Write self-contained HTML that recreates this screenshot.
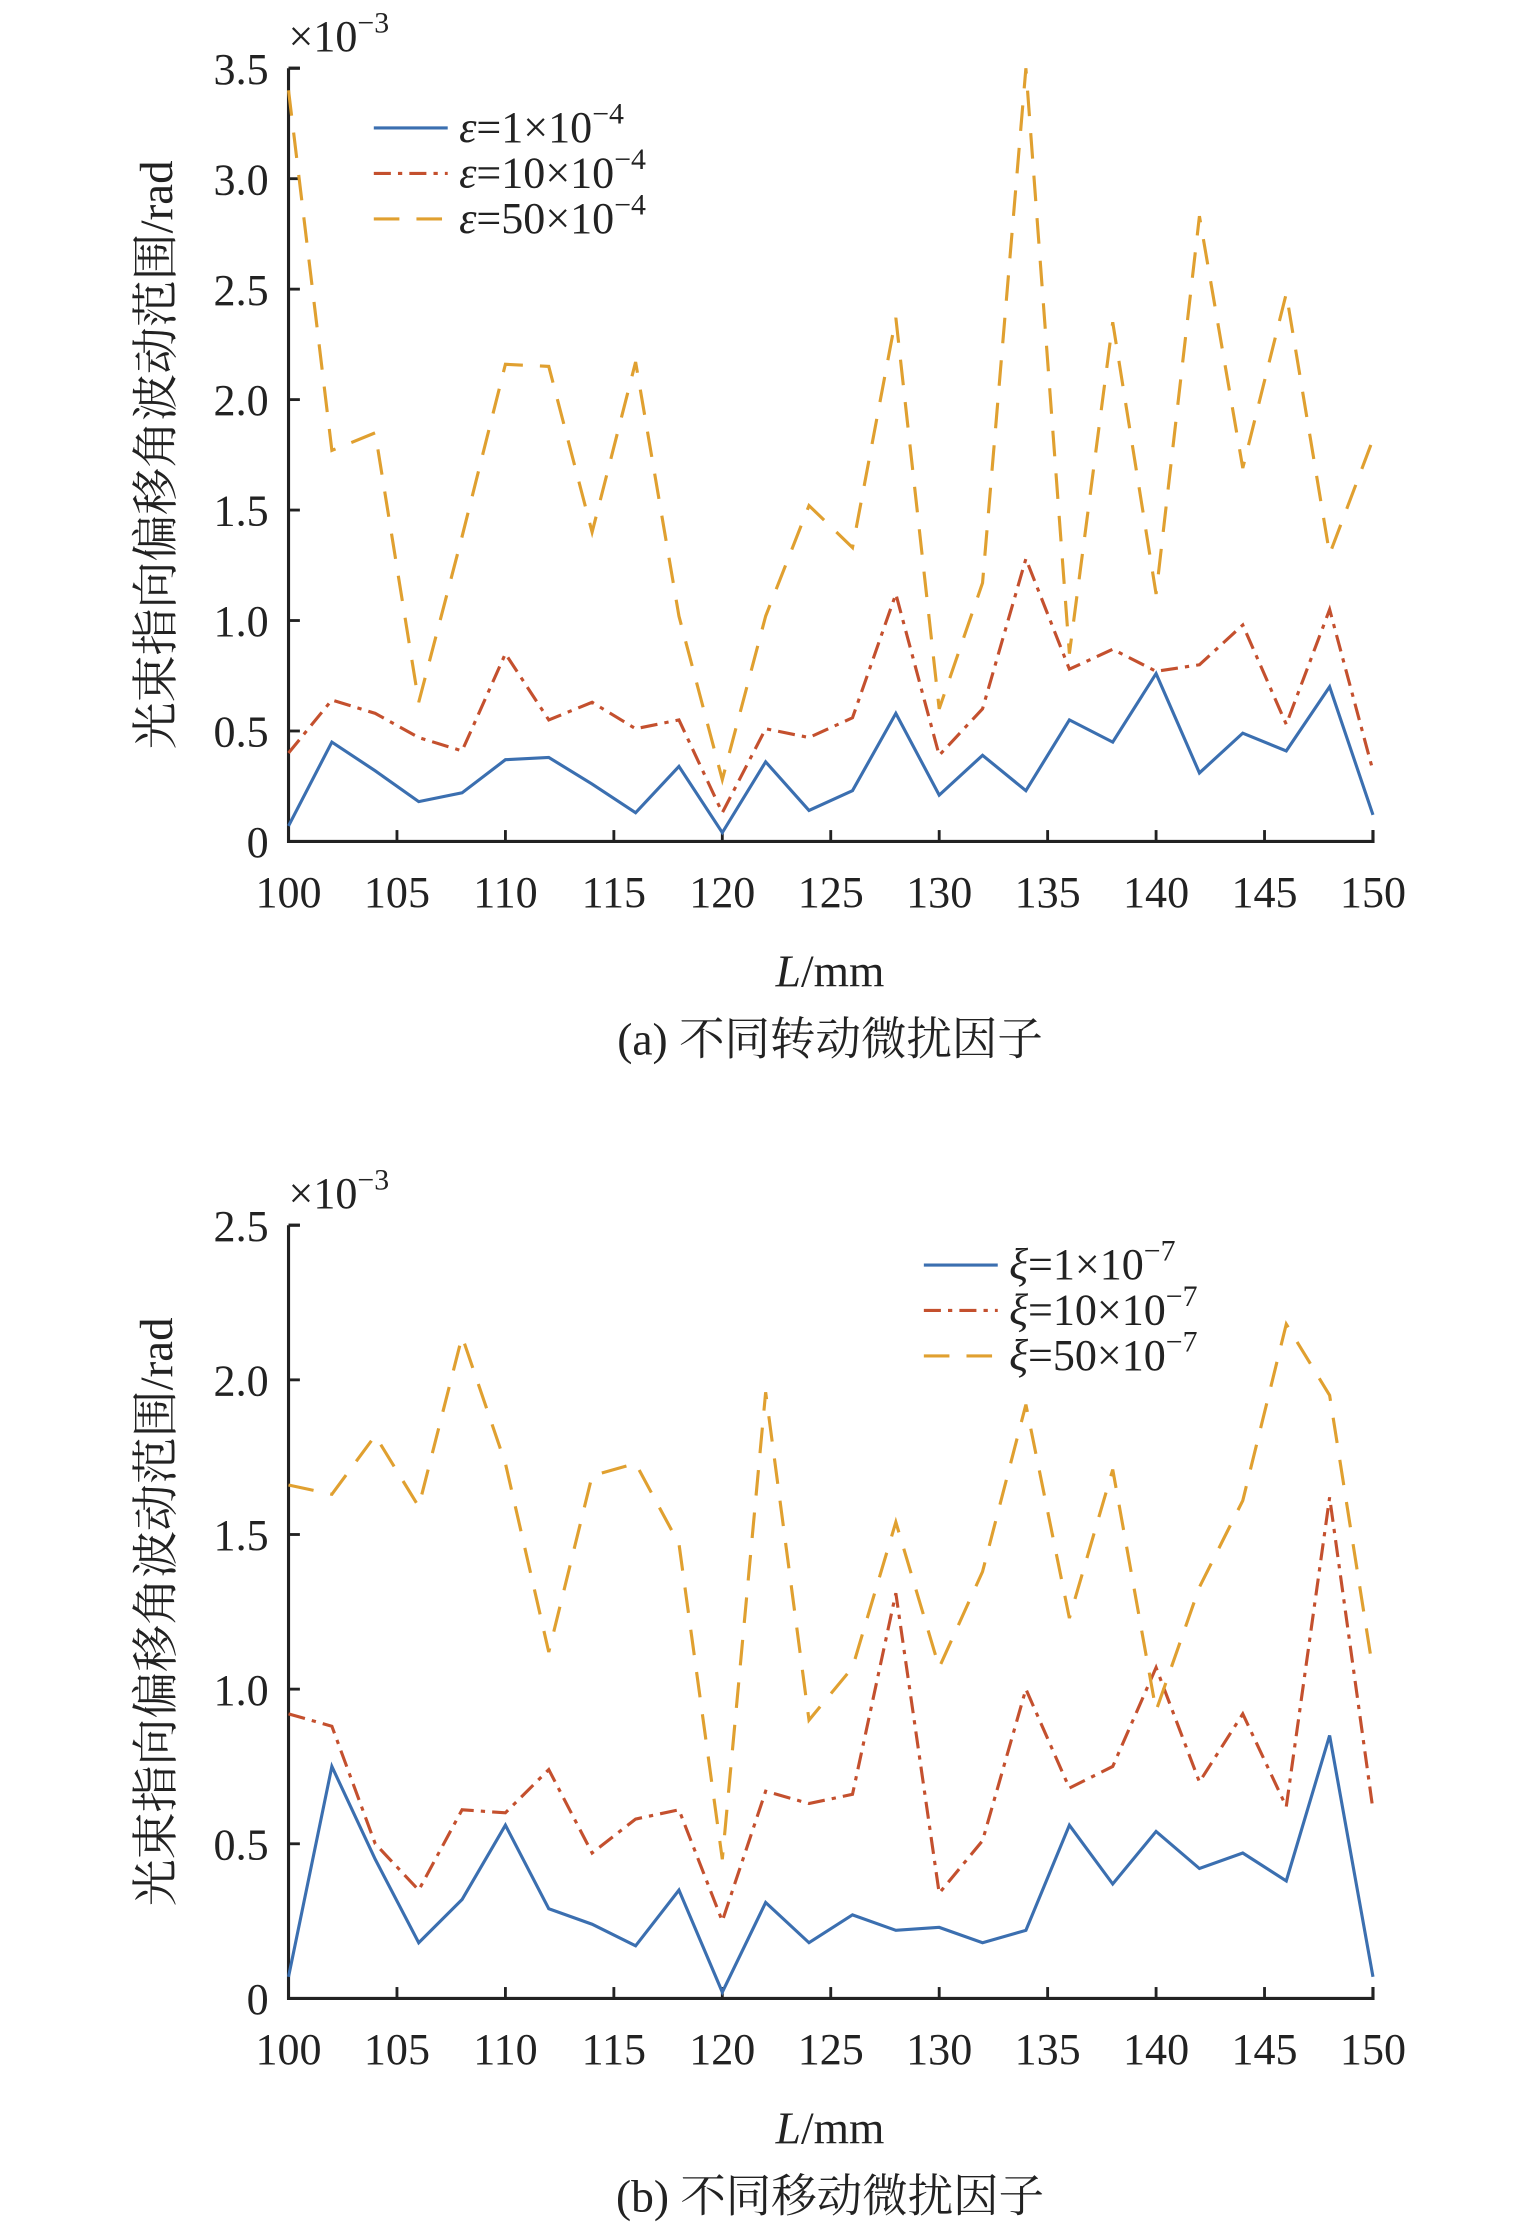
<!DOCTYPE html>
<html><head><meta charset="utf-8"><style>
html,body{margin:0;padding:0;background:#fff;}
svg{display:block;}
text{font-family:"Liberation Serif","Noto Serif CJK SC",serif;fill:#222;}
</style></head><body>
<svg id="s" width="1535" height="2223" viewBox="0 0 1080 1564" preserveAspectRatio="none" xmlns="http://www.w3.org/2000/svg"></svg>
<script>
const S=document.getElementById('s');let h='';
function chart(y0,ymaxVal,step,nt,sym,sup,data,legX,legY,cap){
  const x0=203,x1=966;
  const pxPer=(y0-(y0===592?48:862))/ymaxVal;
  const yT=y0-ymaxVal*pxPer;
  const X=v=>x0+(v-100)*(x1-x0)/50, Y=v=>y0-v*pxPer;
  h+=`<path d="M${x0},${yT}H${x0+8}M${x0},${yT}V${y0}H${x1}V${y0-8}" stroke="#222" stroke-width="2.2" fill="none"/>`;
  for(let i=0;i<=nt;i++){const v=i*step,y=Y(v);
    h+=`<line x1="${x0}" y1="${y}" x2="${x0+8}" y2="${y}" stroke="#222" stroke-width="2"/>`;
    h+=`<text x="${x0-14}" y="${y+11}" font-size="31" text-anchor="end">${i==0?'0':v.toFixed(1)}</text>`;}
  for(let v=100;v<=150;v+=5){const x=X(v);
    h+=`<line x1="${x}" y1="${y0}" x2="${x}" y2="${y0-8}" stroke="#222" stroke-width="2"/>`;
    h+=`<text x="${x}" y="${y0+46}" font-size="31" text-anchor="middle">${v}</text>`;}
  h+=`<text x="${x0}" y="${yT-12}" font-size="31">×10<tspan dy="-13" font-size="21">−3</tspan></text>`;
  const cols=['#3b6fb0','#c4502e','#e0a030'],dash=['','12 5 3 5','18 12'];
  data.forEach((d,k)=>{const pts=d.map((v,i)=>X(100+2*i).toFixed(1)+','+Y(v).toFixed(1)).join(' ');
    h+=`<polyline points="${pts}" fill="none" stroke="${cols[k]}" stroke-width="2.2" stroke-dasharray="${dash[k]}"/>`;});
  const labs=['1','10','50'];
  labs.forEach((l,k)=>{const y=legY+k*32;
    h+=`<line x1="${legX}" y1="${y}" x2="${legX+52}" y2="${y}" stroke="${cols[k]}" stroke-width="2.2" stroke-dasharray="${dash[k]}"/>`;
    h+=`<text x="${legX+60}" y="${y+10}" font-size="31"><tspan font-style="italic">${sym}</tspan>=${l}×10<tspan dy="-13" font-size="21">−${sup}</tspan></text>`;});
  const cy=(yT+y0)/2;
  h+=`<text transform="translate(121,${cy}) rotate(-90)" font-size="33" text-anchor="middle">光束指向偏移角波动范围/rad</text>`;
  h+=`<text x="584" y="${y0+102}" font-size="32" text-anchor="middle"><tspan font-style="italic">L</tspan>/mm</text>`;
  h+=`<text x="584" y="${y0+150}" font-size="32" text-anchor="middle">${cap}</text>`;
}
chart(592,3.5,0.5,7,'ε','4',[
[0.07,0.45,0.32,0.18,0.22,0.37,0.38,0.26,0.13,0.34,0.04,0.36,0.14,0.23,0.58,0.21,0.39,0.23,0.55,0.45,0.76,0.31,0.49,0.41,0.70,0.12],
[0.40,0.64,0.58,0.47,0.41,0.85,0.55,0.63,0.51,0.55,0.13,0.51,0.47,0.56,1.12,0.39,0.60,1.28,0.78,0.87,0.77,0.80,0.98,0.53,1.05,0.32],
[3.40,1.77,1.85,0.63,1.38,2.16,2.15,1.40,2.17,1.02,0.28,1.02,1.52,1.33,2.37,0.60,1.17,3.50,0.85,2.35,1.12,2.83,1.69,2.48,1.30,1.82]],
263,90,'(a) 不同转动微扰因子');
chart(1406,2.5,0.5,5,'ξ','7',[
[0.07,0.75,0.45,0.18,0.32,0.56,0.29,0.24,0.17,0.35,0.02,0.31,0.18,0.27,0.22,0.23,0.18,0.22,0.56,0.37,0.54,0.42,0.47,0.38,0.85,0.07],
[0.92,0.88,0.50,0.35,0.61,0.60,0.74,0.47,0.58,0.61,0.25,0.67,0.63,0.66,1.31,0.34,0.51,1.00,0.68,0.75,1.07,0.70,0.92,0.62,1.62,0.61],
[1.66,1.63,1.82,1.59,2.14,1.73,1.12,1.69,1.73,1.47,0.45,1.96,0.90,1.07,1.54,1.07,1.38,1.92,1.23,1.71,0.93,1.33,1.61,2.18,1.95,1.06]],
650,890,'(b) 不同移动微扰因子');
S.innerHTML=h;
</script>
</body></html>
